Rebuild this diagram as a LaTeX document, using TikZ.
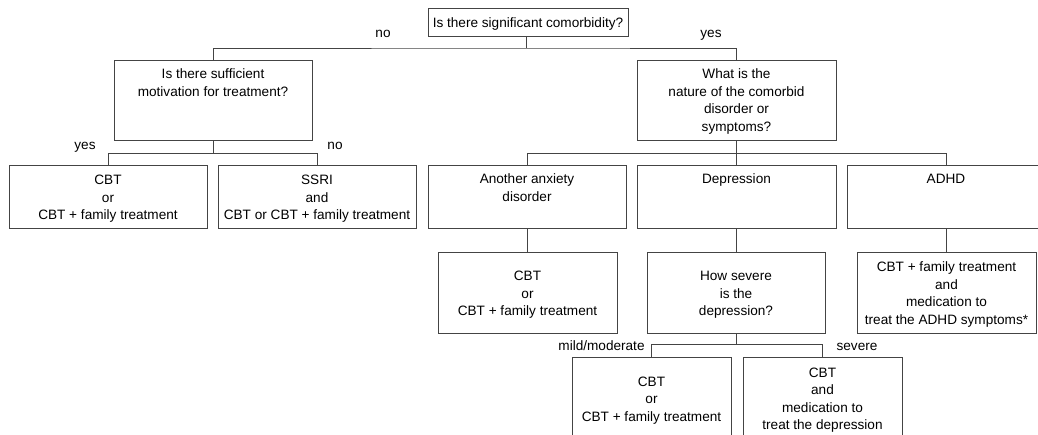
\documentclass[tikz,border=0pt]{standalone}
\usepackage{fontspec}
\setmainfont{Liberation Sans}
\definecolor{linec}{HTML}{444444}
% box text: top-aligned or vertically centred in a fixed frame
\newcommand{\toptext}[3]{\parbox[c][#2][t]{#1}{\centering\vspace*{6.5pt}\strut #3\strut\par}}
\newcommand{\midtext}[3]{\parbox[c][#2][c]{#1}{\centering\vspace*{4pt}\strut #3\strut\par}}
\begin{document}
\begin{tikzpicture}[x=1pt,y=-1pt,
  every node/.style={font=\fontsize{13.6}{17.5}\selectfont},
  cell/.style={draw=linec, line width=1pt, inner sep=0pt},
  branch/.style={draw=linec, line width=1pt},
  tag/.style={inner sep=0pt, anchor=base}]
\clip (0,0) rectangle (1038,434);

% decision and treatment boxes
\node[cell] (top)    at (528,22)      {\midtext{200pt}{28pt}{Is there significant comorbidity?}};
\node[cell] (motiv)  at (213,100)     {\toptext{198pt}{80pt}{Is there sufficient\\motivation for treatment?}};
\node[cell] (nature) at (736.5,100)   {\toptext{199pt}{80pt}{What is the\\nature of the comorbid\\disorder or\\symptoms?}};
\node[cell] (cbtA)   at (108,196.5)   {\midtext{198pt}{63pt}{CBT\\or\\CBT + family treatment}};
\node[cell] (ssri)   at (317,196.5)   {\midtext{198pt}{63pt}{SSRI\\and\\CBT or CBT + family treatment}};
\node[cell] (anx)    at (527,196.5)   {\toptext{198pt}{63pt}{Another anxiety\\disorder}};
\node[cell] (dep)    at (736.5,196.5) {\toptext{199pt}{63pt}{Depression}};
\node[cell] (adhd)   at (946,196.5)   {\toptext{198pt}{63pt}{ADHD}};
\node[cell] (cbtB)   at (527.5,292.5) {\midtext{179pt}{81pt}{CBT\\or\\CBT + family treatment}};
\node[cell] (sev)    at (736,292.5)   {\midtext{178pt}{81pt}{How severe\\is the\\depression?}};
\node[cell] (adhdT)  at (946.5,292.5) {\midtext{179pt}{81pt}{CBT + family treatment\\and\\medication to\\treat the ADHD symptoms*}};
\node[cell] (mild)   at (651.5,398)   {\midtext{159pt}{82pt}{CBT\\or\\CBT + family treatment}};
\node[cell] (sevT)   at (822.5,398)   {\midtext{159pt}{82pt}{CBT\\and\\medication to\\treat the depression}};

% connectors
\coordinate (j1) at (526,48);
\draw[branch] (top.south -| j1) -- (j1);
\draw[branch] (motiv.north) |- (j1) -| (nature.north);

\draw[branch] (motiv.south) -- ++(0,13) coordinate (j2);
\draw[branch] (cbtA.north) |- (j2) -| (ssri.north);

\draw[branch] (nature.south) -- ++(0,13) coordinate (j3);
\draw[branch] (anx.north) |- (j3) -| (adhd.north);
\draw[branch] (j3) -- (dep.north);

\draw[branch] (anx.south) -- (anx.south |- cbtB.north);
\draw[branch] (dep.south) -- (dep.south |- sev.north);
\draw[branch] (adhd.south) -- (adhd.south |- adhdT.north);

\draw[branch] (sev.south) -- ++(0,11) coordinate (j4);
\draw[branch] (mild.north) |- (j4) -| (sevT.north);

% branch labels
\node[tag] (l1) at (383,37)    {no};
\node[tag] (l2) at (711,37)    {yes};
\node[tag] (l3) at (85,149)    {yes};
\node[tag] (l4) at (335,149)   {no};
\node[tag] (l5) at (601.5,350.5) {mild/moderate};
\node[tag] (l6) at (857,350)   {severe};
\end{tikzpicture}
\end{document}
